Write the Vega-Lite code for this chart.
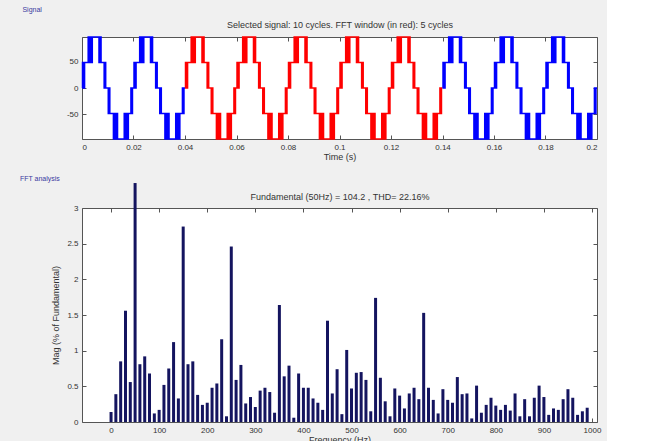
{
"$schema":"https://vega.github.io/schema/vega-lite/v6.json",
"padding":{"left":19,"top":5,"right":5,"bottom":0},
"spacing":12,
"config":{
"background":"#f0f0f0",
"font":"Liberation Sans",
"view":{"fill":"#ffffff","stroke":"#555555","strokeWidth":1},
"axis":{"grid":false,"domain":false,"tickColor":"#555555","tickSize":-4,"labelPadding":8,"labelFontSize":8,"labelColor":"#333333","titleFontSize":9,"titleFontWeight":"normal","titleColor":"#333333"},
"title":{"fontSize":7,"fontWeight":"normal","color":"#3a3aa0","anchor":"start","frame":"bounds"}
},
"vconcat":[
{
"title":{"text":"Signal","dx":-44,"offset":8},
"width":515,"height":102,
"data":{"values":[
{"t":0,"v":0,"s":"a"},{"t":0.0002,"v":49,"s":"a"},{"t":0.0006,"v":0,"s":"a"},{"t":0.001,"v":49,"s":"a"},{"t":0.0024,"v":98,"s":"a"},{"t":0.0028,"v":49,"s":"a"},{"t":0.0032,"v":98,"s":"a"},{"t":0.0036,"v":49,"s":"a"},{"t":0.004,"v":98,"s":"a"},{"t":0.0066,"v":49,"s":"a"},{"t":0.007,"v":98,"s":"a"},{"t":0.0074,"v":49,"s":"a"},{"t":0.0086,"v":0,"s":"a"},{"t":0.0089,"v":49,"s":"a"},{"t":0.0092,"v":0,"s":"a"},{"t":0.0102,"v":-49,"s":"a"},{"t":0.0105,"v":0,"s":"a"},{"t":0.0108,"v":-49,"s":"a"},{"t":0.0122,"v":-98,"s":"a"},{"t":0.0126,"v":-49,"s":"a"},{"t":0.013,"v":-98,"s":"a"},{"t":0.0134,"v":-49,"s":"a"},{"t":0.0138,"v":-98,"s":"a"},{"t":0.0164,"v":-49,"s":"a"},{"t":0.0168,"v":-98,"s":"a"},{"t":0.0172,"v":-49,"s":"a"},{"t":0.0176,"v":-98,"s":"a"},{"t":0.018,"v":-49,"s":"a"},{"t":0.019,"v":0,"s":"a"},{"t":0.0193,"v":-49,"s":"a"},{"t":0.0196,"v":0,"s":"a"},
{"t":0.02,"v":0,"s":"a"},{"t":0.0202,"v":49,"s":"a"},{"t":0.0206,"v":0,"s":"a"},{"t":0.021,"v":49,"s":"a"},{"t":0.0224,"v":98,"s":"a"},{"t":0.0228,"v":49,"s":"a"},{"t":0.0232,"v":98,"s":"a"},{"t":0.0236,"v":49,"s":"a"},{"t":0.024,"v":98,"s":"a"},{"t":0.0266,"v":49,"s":"a"},{"t":0.027,"v":98,"s":"a"},{"t":0.0274,"v":49,"s":"a"},{"t":0.0286,"v":0,"s":"a"},{"t":0.0289,"v":49,"s":"a"},{"t":0.0292,"v":0,"s":"a"},{"t":0.0302,"v":-49,"s":"a"},{"t":0.0305,"v":0,"s":"a"},{"t":0.0308,"v":-49,"s":"a"},{"t":0.0322,"v":-98,"s":"a"},{"t":0.0326,"v":-49,"s":"a"},{"t":0.033,"v":-98,"s":"a"},{"t":0.0334,"v":-49,"s":"a"},{"t":0.0338,"v":-98,"s":"a"},{"t":0.0364,"v":-49,"s":"a"},{"t":0.0368,"v":-98,"s":"a"},{"t":0.0372,"v":-49,"s":"a"},{"t":0.0376,"v":-98,"s":"a"},{"t":0.038,"v":-49,"s":"a"},{"t":0.039,"v":0,"s":"a"},{"t":0.0393,"v":-49,"s":"a"},{"t":0.0396,"v":0,"s":"a"},{"t":0.04,"v":0,"s":"a"},
{"t":0.04,"v":0,"s":"b"},{"t":0.0402,"v":49,"s":"b"},{"t":0.0406,"v":0,"s":"b"},{"t":0.041,"v":49,"s":"b"},{"t":0.0424,"v":98,"s":"b"},{"t":0.0428,"v":49,"s":"b"},{"t":0.0432,"v":98,"s":"b"},{"t":0.0436,"v":49,"s":"b"},{"t":0.044,"v":98,"s":"b"},{"t":0.0466,"v":49,"s":"b"},{"t":0.047,"v":98,"s":"b"},{"t":0.0474,"v":49,"s":"b"},{"t":0.0486,"v":0,"s":"b"},{"t":0.0489,"v":49,"s":"b"},{"t":0.0492,"v":0,"s":"b"},{"t":0.0502,"v":-49,"s":"b"},{"t":0.0505,"v":0,"s":"b"},{"t":0.0508,"v":-49,"s":"b"},{"t":0.0522,"v":-98,"s":"b"},{"t":0.0526,"v":-49,"s":"b"},{"t":0.053,"v":-98,"s":"b"},{"t":0.0534,"v":-49,"s":"b"},{"t":0.0538,"v":-98,"s":"b"},{"t":0.0564,"v":-49,"s":"b"},{"t":0.0568,"v":-98,"s":"b"},{"t":0.0572,"v":-49,"s":"b"},{"t":0.0576,"v":-98,"s":"b"},{"t":0.058,"v":-49,"s":"b"},{"t":0.059,"v":0,"s":"b"},{"t":0.0593,"v":-49,"s":"b"},{"t":0.0596,"v":0,"s":"b"},
{"t":0.06,"v":0,"s":"b"},{"t":0.0602,"v":49,"s":"b"},{"t":0.0606,"v":0,"s":"b"},{"t":0.061,"v":49,"s":"b"},{"t":0.0624,"v":98,"s":"b"},{"t":0.0628,"v":49,"s":"b"},{"t":0.0632,"v":98,"s":"b"},{"t":0.0636,"v":49,"s":"b"},{"t":0.064,"v":98,"s":"b"},{"t":0.0666,"v":49,"s":"b"},{"t":0.067,"v":98,"s":"b"},{"t":0.0674,"v":49,"s":"b"},{"t":0.0686,"v":0,"s":"b"},{"t":0.0689,"v":49,"s":"b"},{"t":0.0692,"v":0,"s":"b"},{"t":0.0702,"v":-49,"s":"b"},{"t":0.0705,"v":0,"s":"b"},{"t":0.0708,"v":-49,"s":"b"},{"t":0.0722,"v":-98,"s":"b"},{"t":0.0726,"v":-49,"s":"b"},{"t":0.073,"v":-98,"s":"b"},{"t":0.0734,"v":-49,"s":"b"},{"t":0.0738,"v":-98,"s":"b"},{"t":0.0764,"v":-49,"s":"b"},{"t":0.0768,"v":-98,"s":"b"},{"t":0.0772,"v":-49,"s":"b"},{"t":0.0776,"v":-98,"s":"b"},{"t":0.078,"v":-49,"s":"b"},{"t":0.079,"v":0,"s":"b"},{"t":0.0793,"v":-49,"s":"b"},{"t":0.0796,"v":0,"s":"b"},
{"t":0.08,"v":0,"s":"b"},{"t":0.0802,"v":49,"s":"b"},{"t":0.0806,"v":0,"s":"b"},{"t":0.081,"v":49,"s":"b"},{"t":0.0824,"v":98,"s":"b"},{"t":0.0828,"v":49,"s":"b"},{"t":0.0832,"v":98,"s":"b"},{"t":0.0836,"v":49,"s":"b"},{"t":0.084,"v":98,"s":"b"},{"t":0.0866,"v":49,"s":"b"},{"t":0.087,"v":98,"s":"b"},{"t":0.0874,"v":49,"s":"b"},{"t":0.0886,"v":0,"s":"b"},{"t":0.0889,"v":49,"s":"b"},{"t":0.0892,"v":0,"s":"b"},{"t":0.0902,"v":-49,"s":"b"},{"t":0.0905,"v":0,"s":"b"},{"t":0.0908,"v":-49,"s":"b"},{"t":0.0922,"v":-98,"s":"b"},{"t":0.0926,"v":-49,"s":"b"},{"t":0.093,"v":-98,"s":"b"},{"t":0.0934,"v":-49,"s":"b"},{"t":0.0938,"v":-98,"s":"b"},{"t":0.0964,"v":-49,"s":"b"},{"t":0.0968,"v":-98,"s":"b"},{"t":0.0972,"v":-49,"s":"b"},{"t":0.0976,"v":-98,"s":"b"},{"t":0.098,"v":-49,"s":"b"},{"t":0.099,"v":0,"s":"b"},{"t":0.0993,"v":-49,"s":"b"},{"t":0.0996,"v":0,"s":"b"},
{"t":0.1,"v":0,"s":"b"},{"t":0.1002,"v":49,"s":"b"},{"t":0.1006,"v":0,"s":"b"},{"t":0.101,"v":49,"s":"b"},{"t":0.1024,"v":98,"s":"b"},{"t":0.1028,"v":49,"s":"b"},{"t":0.1032,"v":98,"s":"b"},{"t":0.1036,"v":49,"s":"b"},{"t":0.104,"v":98,"s":"b"},{"t":0.1066,"v":49,"s":"b"},{"t":0.107,"v":98,"s":"b"},{"t":0.1074,"v":49,"s":"b"},{"t":0.1086,"v":0,"s":"b"},{"t":0.1089,"v":49,"s":"b"},{"t":0.1092,"v":0,"s":"b"},{"t":0.1102,"v":-49,"s":"b"},{"t":0.1105,"v":0,"s":"b"},{"t":0.1108,"v":-49,"s":"b"},{"t":0.1122,"v":-98,"s":"b"},{"t":0.1126,"v":-49,"s":"b"},{"t":0.113,"v":-98,"s":"b"},{"t":0.1134,"v":-49,"s":"b"},{"t":0.1138,"v":-98,"s":"b"},{"t":0.1164,"v":-49,"s":"b"},{"t":0.1168,"v":-98,"s":"b"},{"t":0.1172,"v":-49,"s":"b"},{"t":0.1176,"v":-98,"s":"b"},{"t":0.118,"v":-49,"s":"b"},{"t":0.119,"v":0,"s":"b"},{"t":0.1193,"v":-49,"s":"b"},{"t":0.1196,"v":0,"s":"b"},
{"t":0.12,"v":0,"s":"b"},{"t":0.1202,"v":49,"s":"b"},{"t":0.1206,"v":0,"s":"b"},{"t":0.121,"v":49,"s":"b"},{"t":0.1224,"v":98,"s":"b"},{"t":0.1228,"v":49,"s":"b"},{"t":0.1232,"v":98,"s":"b"},{"t":0.1236,"v":49,"s":"b"},{"t":0.124,"v":98,"s":"b"},{"t":0.1266,"v":49,"s":"b"},{"t":0.127,"v":98,"s":"b"},{"t":0.1274,"v":49,"s":"b"},{"t":0.1286,"v":0,"s":"b"},{"t":0.1289,"v":49,"s":"b"},{"t":0.1292,"v":0,"s":"b"},{"t":0.1302,"v":-49,"s":"b"},{"t":0.1305,"v":0,"s":"b"},{"t":0.1308,"v":-49,"s":"b"},{"t":0.1322,"v":-98,"s":"b"},{"t":0.1326,"v":-49,"s":"b"},{"t":0.133,"v":-98,"s":"b"},{"t":0.1334,"v":-49,"s":"b"},{"t":0.1338,"v":-98,"s":"b"},{"t":0.1364,"v":-49,"s":"b"},{"t":0.1368,"v":-98,"s":"b"},{"t":0.1372,"v":-49,"s":"b"},{"t":0.1376,"v":-98,"s":"b"},{"t":0.138,"v":-49,"s":"b"},{"t":0.139,"v":0,"s":"b"},{"t":0.1393,"v":-49,"s":"b"},{"t":0.1396,"v":0,"s":"b"},{"t":0.14,"v":0,"s":"b"},
{"t":0.14,"v":0,"s":"c"},{"t":0.1402,"v":49,"s":"c"},{"t":0.1406,"v":0,"s":"c"},{"t":0.141,"v":49,"s":"c"},{"t":0.1424,"v":98,"s":"c"},{"t":0.1428,"v":49,"s":"c"},{"t":0.1432,"v":98,"s":"c"},{"t":0.1436,"v":49,"s":"c"},{"t":0.144,"v":98,"s":"c"},{"t":0.1466,"v":49,"s":"c"},{"t":0.147,"v":98,"s":"c"},{"t":0.1474,"v":49,"s":"c"},{"t":0.1486,"v":0,"s":"c"},{"t":0.1489,"v":49,"s":"c"},{"t":0.1492,"v":0,"s":"c"},{"t":0.1502,"v":-49,"s":"c"},{"t":0.1505,"v":0,"s":"c"},{"t":0.1508,"v":-49,"s":"c"},{"t":0.1522,"v":-98,"s":"c"},{"t":0.1526,"v":-49,"s":"c"},{"t":0.153,"v":-98,"s":"c"},{"t":0.1534,"v":-49,"s":"c"},{"t":0.1538,"v":-98,"s":"c"},{"t":0.1564,"v":-49,"s":"c"},{"t":0.1568,"v":-98,"s":"c"},{"t":0.1572,"v":-49,"s":"c"},{"t":0.1576,"v":-98,"s":"c"},{"t":0.158,"v":-49,"s":"c"},{"t":0.159,"v":0,"s":"c"},{"t":0.1593,"v":-49,"s":"c"},{"t":0.1596,"v":0,"s":"c"},
{"t":0.16,"v":0,"s":"c"},{"t":0.1602,"v":49,"s":"c"},{"t":0.1606,"v":0,"s":"c"},{"t":0.161,"v":49,"s":"c"},{"t":0.1624,"v":98,"s":"c"},{"t":0.1628,"v":49,"s":"c"},{"t":0.1632,"v":98,"s":"c"},{"t":0.1636,"v":49,"s":"c"},{"t":0.164,"v":98,"s":"c"},{"t":0.1666,"v":49,"s":"c"},{"t":0.167,"v":98,"s":"c"},{"t":0.1674,"v":49,"s":"c"},{"t":0.1686,"v":0,"s":"c"},{"t":0.1689,"v":49,"s":"c"},{"t":0.1692,"v":0,"s":"c"},{"t":0.1702,"v":-49,"s":"c"},{"t":0.1705,"v":0,"s":"c"},{"t":0.1708,"v":-49,"s":"c"},{"t":0.1722,"v":-98,"s":"c"},{"t":0.1726,"v":-49,"s":"c"},{"t":0.173,"v":-98,"s":"c"},{"t":0.1734,"v":-49,"s":"c"},{"t":0.1738,"v":-98,"s":"c"},{"t":0.1764,"v":-49,"s":"c"},{"t":0.1768,"v":-98,"s":"c"},{"t":0.1772,"v":-49,"s":"c"},{"t":0.1776,"v":-98,"s":"c"},{"t":0.178,"v":-49,"s":"c"},{"t":0.179,"v":0,"s":"c"},{"t":0.1793,"v":-49,"s":"c"},{"t":0.1796,"v":0,"s":"c"},
{"t":0.18,"v":0,"s":"c"},{"t":0.1802,"v":49,"s":"c"},{"t":0.1806,"v":0,"s":"c"},{"t":0.181,"v":49,"s":"c"},{"t":0.1824,"v":98,"s":"c"},{"t":0.1828,"v":49,"s":"c"},{"t":0.1832,"v":98,"s":"c"},{"t":0.1836,"v":49,"s":"c"},{"t":0.184,"v":98,"s":"c"},{"t":0.1866,"v":49,"s":"c"},{"t":0.187,"v":98,"s":"c"},{"t":0.1874,"v":49,"s":"c"},{"t":0.1886,"v":0,"s":"c"},{"t":0.1889,"v":49,"s":"c"},{"t":0.1892,"v":0,"s":"c"},{"t":0.1902,"v":-49,"s":"c"},{"t":0.1905,"v":0,"s":"c"},{"t":0.1908,"v":-49,"s":"c"},{"t":0.1922,"v":-98,"s":"c"},{"t":0.1926,"v":-49,"s":"c"},{"t":0.193,"v":-98,"s":"c"},{"t":0.1934,"v":-49,"s":"c"},{"t":0.1938,"v":-98,"s":"c"},{"t":0.1964,"v":-49,"s":"c"},{"t":0.1968,"v":-98,"s":"c"},{"t":0.1972,"v":-49,"s":"c"},{"t":0.1976,"v":-98,"s":"c"},{"t":0.198,"v":-49,"s":"c"},{"t":0.199,"v":0,"s":"c"},{"t":0.1993,"v":-49,"s":"c"},{"t":0.1996,"v":0,"s":"c"},{"t":0.2,"v":0,"s":"c"}
]},
"layer":[
{"mark":{"type":"line","interpolate":"step-after","strokeWidth":1.5,"clip":false},
"encoding":{
"x":{"field":"t","type":"quantitative","scale":{"domain":[0,0.2],"nice":false,"zero":false},"axis":{"values":[0,0.02,0.04,0.06,0.08,0.1,0.12,0.14,0.16,0.18,0.2],"format":"~g","title":"Time (s)","titlePadding":1}},
"y":{"field":"v","type":"quantitative","scale":{"domain":[-98,98],"nice":false},"axis":{"values":[-50,0,50],"title":null,"labelExpr":"replace(datum.label,'\u2212','-')"}},
"color":{"field":"s","type":"nominal","scale":{"domain":["a","b","c"],"range":["#0000ff","#ff0000","#0000ff"]},"legend":null}
}},
{"mark":{"type":"point","opacity":0},
"encoding":{
"x":{"field":"t","type":"quantitative","axis":{"orient":"top","values":[0,0.02,0.04,0.06,0.08,0.1,0.12,0.14,0.16,0.18,0.2],"labels":false,"title":"Selected signal: 10 cycles. FFT window (in red): 5 cycles","titlePadding":7}},
"y":{"field":"v","type":"quantitative","axis":{"orient":"right","values":[-50,0,50],"labels":false,"title":null}}
}}
],
"resolve":{"axis":{"x":"independent","y":"independent"}}
},
{
"title":{"text":"FFT analysis","dx":-32,"offset":-2},
"width":515,"height":214,
"data":{"values":[
{"f":0,"m":0.14},{"f":10,"m":0.39},{"f":20,"m":0.85},{"f":30,"m":1.56},{"f":40,"m":0.56},{"f":50,"m":3.35},{"f":60,"m":0.81},{"f":70,"m":0.92},{"f":80,"m":0.68},{"f":90,"m":0.12},
{"f":100,"m":0.17},{"f":110,"m":0.52},{"f":120,"m":0.75},{"f":130,"m":1.12},{"f":140,"m":0.33},{"f":150,"m":2.74},{"f":160,"m":0.81},{"f":170,"m":0.85},{"f":180,"m":0.38},{"f":190,"m":0.24},
{"f":200,"m":0.27},{"f":210,"m":0.48},{"f":220,"m":0.54},{"f":230,"m":1.16},{"f":240,"m":0.08},{"f":250,"m":2.46},{"f":260,"m":0.59},{"f":270,"m":0.8},{"f":280,"m":0.26},{"f":290,"m":0.35},
{"f":300,"m":0.21},{"f":310,"m":0.44},{"f":320,"m":0.48},{"f":330,"m":0.42},{"f":340,"m":0.13},{"f":350,"m":1.64},{"f":360,"m":0.64},{"f":370,"m":0.79},{"f":380,"m":0.06},{"f":390,"m":0.68},
{"f":400,"m":0.48},{"f":410,"m":0.48},{"f":420,"m":0.33},{"f":430,"m":0.27},{"f":440,"m":0.17},{"f":450,"m":1.42},{"f":460,"m":0.4},{"f":470,"m":0.74},{"f":480,"m":0.11},{"f":490,"m":1.01},
{"f":500,"m":0.47},{"f":510,"m":0.69},{"f":520,"m":0.7},{"f":530,"m":0.59},{"f":540,"m":0.15},{"f":550,"m":1.74},{"f":560,"m":0.62},{"f":570,"m":0.29},{"f":580,"m":0.08},{"f":590,"m":0.47},
{"f":600,"m":0.37},{"f":610,"m":0.19},{"f":620,"m":0.4},{"f":630,"m":0.48},{"f":640,"m":0.32},{"f":650,"m":1.53},{"f":660,"m":0.48},{"f":670,"m":0.31},{"f":680,"m":0.12},{"f":690,"m":0.46},
{"f":700,"m":0.31},{"f":710,"m":0.27},{"f":720,"m":0.63},{"f":730,"m":0.39},{"f":740,"m":0.4},{"f":750,"m":0.05},{"f":760,"m":0.51},{"f":770,"m":0.13},{"f":780,"m":0.24},{"f":790,"m":0.34},
{"f":800,"m":0.23},{"f":810,"m":0.17},{"f":820,"m":0.24},{"f":830,"m":0.16},{"f":840,"m":0.4},{"f":850,"m":0.08},{"f":860,"m":0.32},{"f":870,"m":0.08},{"f":880,"m":0.34},{"f":890,"m":0.51},
{"f":900,"m":0.35},{"f":910,"m":0.1},{"f":920,"m":0.19},{"f":930,"m":0.17},{"f":940,"m":0.32},{"f":950,"m":0.46},{"f":960,"m":0.34},{"f":970,"m":0.1},{"f":980,"m":0.15},{"f":990,"m":0.2}
]},
"layer":[
{"mark":{"type":"bar","orient":"vertical","width":3,"color":"#14145f","clip":false},
"encoding":{
"x":{"field":"f","type":"quantitative","scale":{"domain":[-50,1000],"nice":false,"zero":false},"axis":{"values":[0,100,200,300,400,500,600,700,800,900,1000],"format":"d","title":"Frequency (Hz)","titlePadding":1}},
"y":{"field":"m","type":"quantitative","scale":{"domain":[0,3],"nice":false},"axis":{"values":[0,0.5,1,1.5,2,2.5,3],"format":"~g","title":"Mag (% of Fundamental)","titlePadding":6}}
}},
{"mark":{"type":"point","opacity":0},
"encoding":{
"x":{"field":"f","type":"quantitative","axis":{"orient":"top","values":[0,100,200,300,400,500,600,700,800,900,1000],"labels":false,"title":"Fundamental (50Hz) = 104.2 , THD= 22.16%","titlePadding":6}},
"y":{"field":"m","type":"quantitative","axis":{"orient":"right","values":[0,0.5,1,1.5,2,2.5,3],"labels":false,"title":null}}
}}
],
"resolve":{"axis":{"x":"independent","y":"independent"}}
}
]
}
